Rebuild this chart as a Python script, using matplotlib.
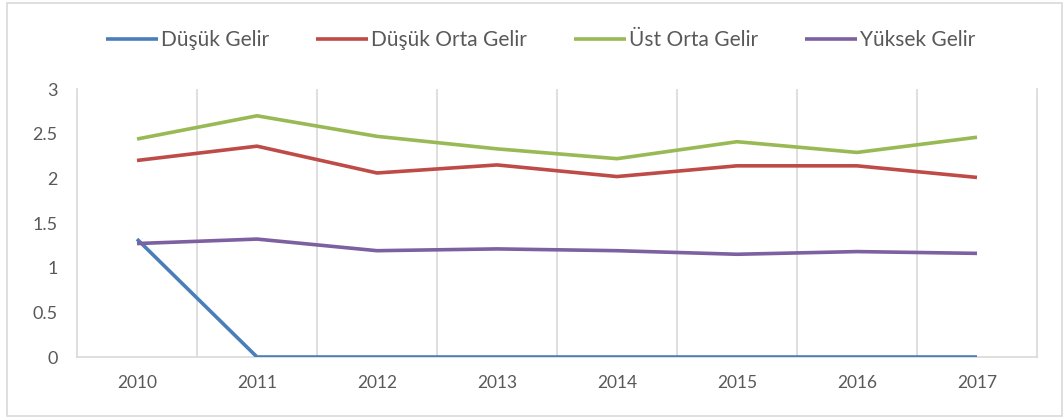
import numpy as np
import matplotlib.pyplot as plt
from matplotlib.patches import Rectangle

years = ['2010', '2011', '2012', '2013', '2014', '2015', '2016', '2017']
dusuk = [1.32, 0, 0, 0, 0, 0, 0, 0]
dusuk_orta = [2.20, 2.36, 2.06, 2.15, 2.02, 2.14, 2.14, 2.01]
ust_orta = [2.44, 2.70, 2.47, 2.33, 2.22, 2.41, 2.29, 2.46]
yuksek = [1.27, 1.32, 1.19, 1.21, 1.19, 1.15, 1.18, 1.16]

series_names = ['Düşük Gelir', 'Düşük Orta Gelir', 'Üst Orta Gelir', 'Yüksek Gelir']
colors = ['#4A7EBB', '#BE4B48', '#98B954', '#7D60A0']

plt.rcParams['font.family'] = ['Lato', 'DejaVu Sans']

fig = plt.figure(figsize=(10.64, 4.18), dpi=100)
ax = fig.add_axes([77 / 1064, 1 - 357 / 418, (1037 - 77) / 1064, (357 - 89) / 418])

x = np.arange(len(years))
for vals, name, c in zip([dusuk, dusuk_orta, ust_orta, yuksek], series_names, colors):
    ax.plot(x, vals, color=c, lw=2.6, label=name, solid_capstyle='butt', zorder=3)

ax.set_xlim(-0.5, len(years) - 0.5)
ax.set_ylim(0, 3)
ax.set_yticks(np.arange(0, 3.01, 0.5))
ax.set_yticklabels(['0', '0.5', '1', '1.5', '2', '2.5', '3'])
ax.set_xticks(x)
ax.set_xticklabels(years)

# dikey ızgara çizgileri kategori sınırlarında
ax.set_xticks(np.arange(0.5, len(years) - 0.5, 1), minor=True)
ax.grid(axis='x', which='minor', color='#D9D9D9', lw=1.2)
ax.tick_params(axis='both', which='both', length=0, colors='#595959')
ax.tick_params(axis='y', labelsize=13, pad=14)
ax.tick_params(axis='x', labelsize=12.5, pad=13)

ax.spines['top'].set_visible(False)
for side in ['left', 'right', 'bottom']:
    ax.spines[side].set_color('#D9D9D9')
    ax.spines[side].set_linewidth(1.2)

fig.legend(loc='center', bbox_to_anchor=(0.508, 0.904), ncol=4, frameon=False,
           fontsize=15, handlelength=2.5, handletextpad=0.15, columnspacing=2.25,
           labelcolor='#595959')

fig.patches.append(Rectangle((7 / 1064, 2 / 418), 1055 / 1064, 413 / 418,
                             transform=fig.transFigure, fill=False,
                             edgecolor='#D9D9D9', lw=1.2))

fig.savefig('out.png', dpi=100)
